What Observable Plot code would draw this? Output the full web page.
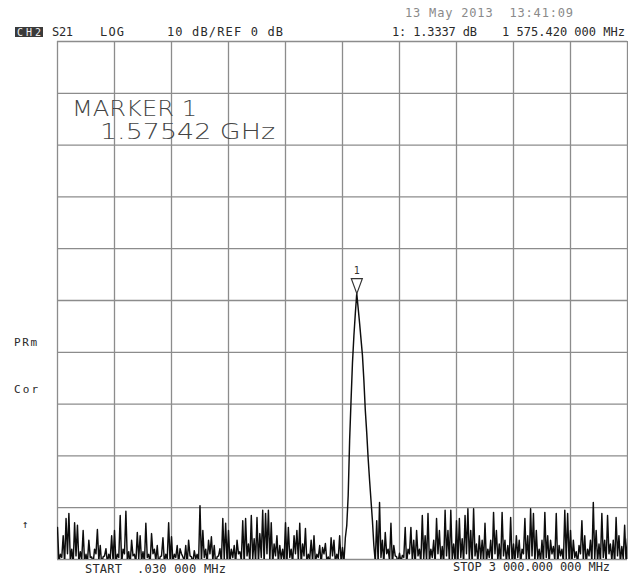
<!DOCTYPE html>
<html>
<head>
<meta charset="utf-8">
<script src="https://cdn.jsdelivr.net/npm/d3@7"></script>
<script src="https://cdn.jsdelivr.net/npm/@observablehq/plot@0.6"></script>
<style>
  html, body { margin: 0; padding: 0; background: #fff; }
  #chart svg { display: block; }
</style>
</head>
<body>
<div id="chart"></div>
<script>
// ---- Sweep definition (instrument settings) ----
const startMHz = 0.03;
const stopMHz = 3000;
const nPoints = 401;
const refDb = 0;        // reference level (centre line)
const dbPerDiv = 10;
const divisions = 10;

// ---- Trace values in dB, one per sweep point ----
const traceDb = [
  -43.8,-50.5, -49.0,-49.6, -45.4,-50.8, -42.1,-48.9, -41.1,-50.2, -48.0,-51.0, -42.9,-49.3, -43.4,-50.6, -48.5,-49.9, -44.4,-50.4,
  -49.0,-50.5, -46.3,-49.6, -49.5,-50.8, -48.0,-48.9, -44.2,-50.2, -47.3,-51.0, -49.5,-49.3, -47.9,-50.6, -49.0,-49.9, -45.4,-50.4,
  -44.4,-50.5, -49.0,-49.6, -41.5,-50.8, -48.0,-48.9, -40.7,-50.2, -48.5,-51.0, -46.3,-49.3, -49.0,-50.6, -44.8,-49.9, -45.4,-50.4,
  -48.5,-50.5, -43.0,-49.6, -49.0,-50.8, -45.0,-48.9, -48.0,-50.2, -47.3,-51.0, -49.5,-49.3, -45.8,-50.6, -49.0,-49.9, -42.9,-50.4,
  -45.6,-50.5, -49.0,-49.6, -47.3,-50.8, -47.9,-48.9, -49.5,-50.2, -47.3,-51.0, -46.3,-49.3, -49.5,-50.6, -48.3,-49.9, -49.0,-50.4,
  -39.6,-50.5, -44.4,-49.6, -48.0,-50.8, -46.3,-48.9, -45.6,-50.2, -47.3,-51.0, -49.5,-49.3, -47.9,-50.6, -42.1,-49.9, -43.0,-50.4,
  -44.4,-50.5, -48.0,-49.6, -47.3,-50.8, -46.3,-48.9, -48.5,-50.2, -42.5,-51.0, -42.1,-49.3, -47.0,-50.6, -41.5,-49.9, -46.0,-50.4,
  -41.9,-50.5, -45.0,-49.6, -40.5,-50.8, -41.1,-48.9, -40.5,-50.2, -42.9,-51.0, -47.0,-49.3, -45.4,-50.6, -47.3,-49.9, -48.0,-50.4,
  -42.9,-50.5, -43.8,-49.6, -48.0,-50.8, -45.4,-48.9, -44.4,-50.2, -43.0,-51.0, -47.0,-49.3, -44.0,-50.6, -49.0,-49.9, -46.3,-50.4,
  -45.4,-50.5, -49.0,-49.6, -47.3,-50.8, -47.7,-48.9, -46.9,-50.2, -49.5,-51.0, -45.8,-49.3, -46.3,-50.6, -49.0,-49.9, -45.4,-50.4,
  // carrier peak
  -47.7,-50.5, -45.8,-43.4, -37.6,-27.0, -19.3,-12.0, -6.8,-2.5, 1.3337,-1.5, -4.4,-7.5, -10.6,-15.4, -21.2,-25.5, -30.5,-34.7,
  -38.6,-42.5, -47.3,-50.5, -42.5,-50.5, -39.0,
  -49.6, -46.3,-50.8, -44.8,-48.9, -48.0,-50.2, -43.0,-51.0, -47.3,-49.3, -49.5,-50.6,
  -48.8,-50.5, -49.2,-49.6, -43.8,-50.8, -48.0,-48.9, -43.8,-50.2, -46.3,-51.0, -44.4,-49.3, -48.0,-50.6, -41.5,-49.9, -45.4,-50.4,
  -41.1,-50.5, -48.0,-49.6, -46.3,-50.8, -42.1,-48.9, -44.4,-50.2, -47.5,-51.0, -40.5,-49.3, -44.4,-50.6, -40.5,-49.9, -47.0,-50.4,
  -42.5,-50.5, -42.1,-49.6, -46.0,-50.8, -41.5,-48.9, -40.2,-50.2, -44.4,-51.0, -40.2,-49.3, -47.0,-50.6, -45.4,-49.9, -46.3,-50.4,
  -43.0,-50.5, -48.0,-49.6, -46.3,-50.8, -40.9,-48.9, -44.4,-50.2, -47.0,-51.0, -40.9,-49.3, -46.3,-50.6, -47.3,-49.9, -41.9,-50.4,
  -47.0,-50.5, -45.4,-49.6, -46.3,-50.8, -48.0,-48.9, -42.1,-50.2, -45.4,-51.0, -40.2,-49.3, -41.1,-50.6, -44.4,-49.9, -48.0,-50.4,
  -46.3,-50.5, -40.9,-49.6, -45.4,-50.8, -46.3,-48.9, -47.5,-50.2, -41.1,-51.0, -47.3,-49.3, -48.0,-50.6, -40.5,-49.9, -41.1,-50.4,
  -44.4,-50.5, -46.3,-49.6, -48.5,-50.8, -47.3,-48.9, -42.5,-50.2, -45.4,-51.0, -48.0,-49.3, -46.3,-50.6, -39.0,-49.9, -44.4,-50.4,
  -47.0,-50.5, -41.1,-49.6, -46.3,-50.8, -41.5,-48.9, -47.0,-50.2, -46.3,-51.0, -41.9,-49.3, -45.4,-50.6, -47.5,-49.9, -43.4,-50.4,
  -46.0
];

// ---- Marker ----
const markerLabel = ["1"];
const markerFreqMHz = [1575.42];
const markerDb = [1.3337];

// ---- Texts ----
const headerLeft = ["S21", "LOG", "10 dB/REF 0 dB"];
const channelLabel = "CH2";
const dateText = "13 May 2013  13:41:09";
const markerReadout = ["1: 1.3337 dB", "1 575.420 000 MHz"];
const sideLabels = ["PRm", "Cor", "\u2191"];
const markerBig = ["MARKER 1", "1.57542 GHz"];
const footer = ["START  .030 000 MHz", "STOP 3 000.000 000 MHz"];

// ---- Build data ----
const step = (stopMHz - startMHz) / (nPoints - 1);
const trace = traceDb.map((db, i) => ({ f: startMHz + i * step, db }));
const markers = markerLabel.map((m, i) => ({ label: m, f: markerFreqMHz[i], db: markerDb[i] }));
const xGrid = d3.range(divisions + 1).map(k => startMHz + k * (stopMHz - startMHz) / divisions);
const yMin = refDb - dbPerDiv * divisions / 2, yMax = refDb + dbPerDiv * divisions / 2;
const yGrid = d3.range(divisions + 1).map(k => yMin + k * dbPerDiv);

// Down-pointing marker triangle with its tip on the point
const markerSymbol = {
  draw(ctx) {
    ctx.moveTo(0, 0);
    ctx.lineTo(-5.5, -15);
    ctx.lineTo(5.5, -15);
    ctx.closePath();
  }
};

const gridColor = "#8c8c8c";

const chart = Plot.plot({
  width: 628,
  height: 576,
  marginLeft: 57,
  marginRight: 1,
  marginTop: 41,
  marginBottom: 17,
  style: { background: "#fff", overflow: "visible" },
  x: { domain: [startMHz, stopMHz], axis: null },
  y: { domain: [yMin, yMax], axis: null },
  marks: [
    Plot.gridX(xGrid, { stroke: gridColor, strokeOpacity: 1, strokeWidth: 1.3 }),
    Plot.gridY(yGrid, { stroke: gridColor, strokeOpacity: 1, strokeWidth: 1.3 }),
    Plot.line(trace, { x: "f", y: "db", stroke: "#0d0d0d", strokeWidth: 1.45, clip: true }),
    Plot.dot(markers, { x: "f", y: "db", symbol: markerSymbol, fill: "none", stroke: "#333", strokeWidth: 1.2 }),
    Plot.text(markers, { x: "f", y: "db", text: "label", dy: -23, fontSize: 10, fill: "#333",
      fontFamily: "DejaVu Sans Mono" })
  ]
});

document.getElementById("chart").appendChild(chart);

// ---- Annotation texts ----
const svg = d3.select(chart);
function addText(str, x, y, opts = {}) {
  const t = svg.append("text")
    .attr("x", x).attr("y", y)
    .attr("font-family", opts.family || "DejaVu Sans Mono")
    .attr("font-size", opts.size || 12)
    .attr("fill", opts.fill || "#2a2a2a")
    .attr("text-anchor", opts.anchor || "start")
    .style("white-space", "pre")
    .text(str);
  if (opts.weight) t.attr("font-weight", opts.weight);
  if (opts.width) t.attr("textLength", opts.width).attr("lengthAdjust", opts.adjust || "spacing");
  return t;
}

// channel box
svg.append("rect").attr("x", 15).attr("y", 27).attr("width", 28).attr("height", 10).attr("fill", "#3a3a3a");
addText(channelLabel, 17, 36, { size: 10, fill: "#f0f0f0", width: 24 });

addText(headerLeft[0], 52, 36, { width: 21 });
addText(headerLeft[1], 100, 36, { width: 24 });
addText(headerLeft[2], 167, 36, { width: 116 });

addText(dateText, 405, 17, { fill: "#8a8a8a", width: 168 });
addText(markerReadout[0], 392, 36, { width: 85 });
addText(markerReadout[1], 502, 36, { width: 123 });

addText(sideLabels[0], 14, 346, { width: 23, size: 11 });
addText(sideLabels[1], 14, 393, { width: 24, size: 11 });
addText(sideLabels[2], 25, 528, { size: 11, anchor: "middle" });

addText(markerBig[0], 72, 116, { family: "DejaVu Sans", weight: 200, size: 22, fill: "#444", width: 125, adjust: "spacingAndGlyphs" });
addText(markerBig[1], 100, 139, { family: "DejaVu Sans", weight: 200, size: 22, fill: "#444", width: 175, adjust: "spacingAndGlyphs" });

addText(footer[0], 85, 573, { width: 141 });
addText(footer[1], 453, 571, { width: 157 });
</script>
</body>
</html>
